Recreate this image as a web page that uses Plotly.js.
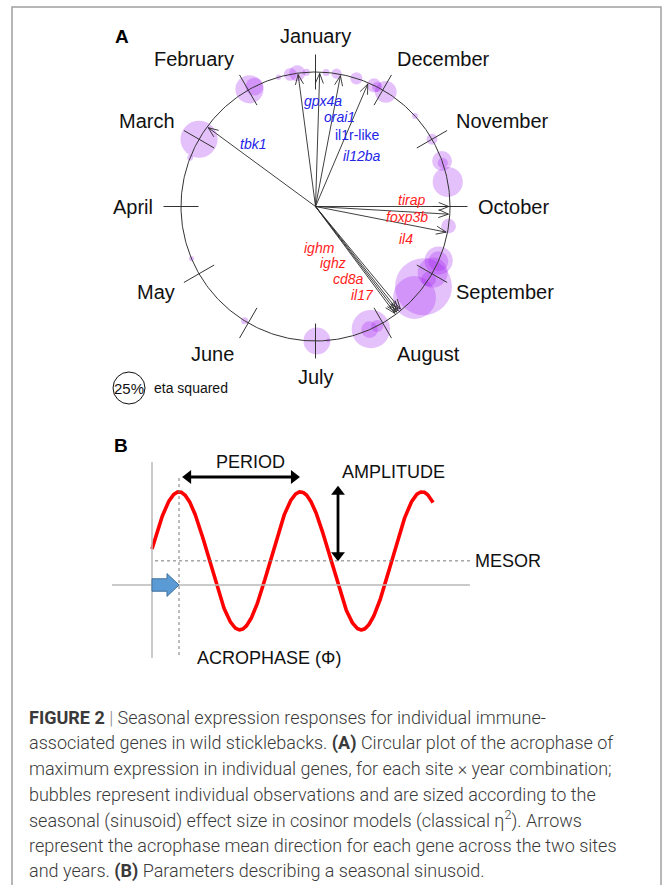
<!DOCTYPE html>
<html><head><meta charset="utf-8">
<script src="https://cdn.plot.ly/plotly-3.0.1.min.js"></script>
<style>html,body{margin:0;padding:0;background:#fff;} #chart{width:664px;height:885px;}</style>
</head><body><div id="chart"></div>
<script>
// ---------- DATA ----------
const months = ['January','February','March','April','May','June','July','August','September','October','November','December'];
// Panel A bubbles: acrophase (month position, 1 = January tick, 2 = February ...) and eta squared
const bubbleMonth = [1.53,1.36,1.26,1.13,0.85,0.70,12.41,12.14,12.09,11.95,1.98,1.90,3.00,3.29,11.41,11.00,10.66,10.63,10.35,9.72,9.21,9.20,9.02,8.91,8.78,8.58,7.81,7.79,7.91,7.02,7.18,5.94,4.76];
const bubbleEta2  = [0.04,0.10,0.125,0.055,0.055,0.08,0.095,0.11,0.08,0.17,0.22,0.14,0.29,0.045,0.045,0.085,0.155,0.08,0.235,0.115,0.22,0.155,0.235,0.115,0.445,0.335,0.30,0.13,0.095,0.21,0.03,0.055,0.04];
// Panel A arrows: mean acrophase direction per gene
const geneNames = ['tbk1','gpx4a','orai1','il1r-like','il12ba','tirap','foxp3b','il4','ighm','ighz','cd8a','il17'];
const geneMeanMonth = [2.79,1.25,0.94,0.64,12.23,10.00,9.89,9.63,8.32,8.28,8.25,8.22];
const geneGroup = ['blue','blue','blue','blue','blue','red','red','red','red','red','red','red'];
const geneItalic = [true,true,true,false,true,true,true,true,true,true,true,true];
const legendEta2 = 0.25;
// Panel B sinusoid parameters (time in months)
const period = 12, amplitude = 1, mesor = 0.35, acrophase = 2.67;
const curveStart = 0, curveEnd = 27.75;

// ---------- LAYOUT CONSTANTS ----------
const W = 664, H = 885;
const BUBBLE_PX = 128;                 // px diameter per unit eta squared
const groupColor = {blue:'#2424e8', red:'#ff1c1c'};
// gene label positions (in circle-radius units)
const geneLabelXY = [[-0.465,0.465],[0.056,0.788],[0.182,0.669],[0.309,0.528],[0.346,0.375],
                     [0.717,0.048],[0.680,-0.078],[0.673,-0.242],[0.033,-0.309],[0.130,-0.420],[0.249,-0.539],[0.353,-0.658]];

const deg = Math.PI/180;
const ang = m => (90 + (m-1)*30)*deg;

const traces = [];
// bubbles
traces.push({
  type:'scatter', mode:'markers', xaxis:'x', yaxis:'y',
  x: bubbleMonth.map(m=>Math.cos(ang(m))), y: bubbleMonth.map(m=>Math.sin(ang(m))),
  marker:{size: bubbleEta2.map(e=>e*BUBBLE_PX), color:'rgba(160,32,240,0.4)', line:{width:0}},
  hoverinfo:'skip'
});
// circle
const cx=[], cy=[];
for(let i=0;i<=360;i++){cx.push(Math.cos(i*deg)); cy.push(Math.sin(i*deg));}
traces.push({type:'scatter', mode:'lines', x:cx, y:cy, line:{color:'#333', width:1}, hoverinfo:'skip'});
// month ticks
const tx=[], ty=[];
months.forEach((_,i)=>{const a=ang(i+1); tx.push(0.87*Math.cos(a),1.13*Math.cos(a),null); ty.push(0.87*Math.sin(a),1.13*Math.sin(a),null);});
traces.push({type:'scatter', mode:'lines', x:tx, y:ty, line:{color:'#333', width:1}, hoverinfo:'skip'});
// arrows
const ax=[], ay=[];
const TIP=0.99, HL=0.08, HA=22*deg;
geneMeanMonth.forEach(m=>{
  const a=ang(m); const x1=TIP*Math.cos(a), y1=TIP*Math.sin(a);
  ax.push(0,x1,null); ay.push(0,y1,null);
  [a+Math.PI-HA, a+Math.PI+HA].forEach(b=>{ax.push(x1, x1+HL*Math.cos(b), null); ay.push(y1, y1+HL*Math.sin(b), null);});
});
traces.push({type:'scatter', mode:'lines', x:ax, y:ay, line:{color:'#2a2a2a', width:0.9}, hoverinfo:'skip'});
// legend bubble
const legX = (129-315.5)/134.5, legY = (206.5-388)/134.5;
traces.push({type:'scatter', mode:'markers', x:[legX], y:[legY],
  marker:{symbol:'circle-open', size:legendEta2*BUBBLE_PX, color:'#111', line:{width:1}}, hoverinfo:'skip'});

// Panel B curve
const sx=[], sy=[];
const N=700;
for(let i=0;i<=N;i++){const t=curveStart+(curveEnd-curveStart)*i/N; sx.push(t); sy.push(mesor+amplitude*Math.cos(2*Math.PI*(t-acrophase)/period));}
traces.push({type:'scatter', mode:'lines', xaxis:'x2', yaxis:'y2', x:sx, y:sy, line:{color:'#ff0000', width:3.6}, hoverinfo:'skip'});

// Panel B double arrows (period, amplitude)
const pY = 1.565, pX0 = acrophase+0.35, pX1 = acrophase+period-0.1;
const aX = 18.37, aY0 = mesor, aY1 = mesor+amplitude*1.08;
traces.push({type:'scatter', mode:'lines', xaxis:'x2', yaxis:'y2', x:[pX0+0.6,pX1-0.6], y:[pY,pY], line:{color:'#000', width:2.8}, hoverinfo:'skip'});
traces.push({type:'scatter', mode:'markers', xaxis:'x2', yaxis:'y2', x:[pX0+0.55,pX1-0.55], y:[pY,pY],
  marker:{symbol:['triangle-left','triangle-right'], size:12, color:'#000', line:{width:0}}, hoverinfo:'skip'});
traces.push({type:'scatter', mode:'lines', xaxis:'x2', yaxis:'y2', x:[aX,aX], y:[aY0+0.09,aY1-0.09], line:{color:'#000', width:2.8}, hoverinfo:'skip'});
traces.push({type:'scatter', mode:'markers', xaxis:'x2', yaxis:'y2', x:[aX,aX], y:[aY0+0.08,aY1-0.08],
  marker:{symbol:['triangle-down','triangle-up'], size:12, color:'#000', line:{width:0}}, hoverinfo:'skip'});

// ---------- ANNOTATIONS ----------
const ann = [];
const FONT = 'Liberation Sans, Arial, sans-serif';
// month labels
months.forEach((name,i)=>{
  const a=ang(i+1), c=Math.cos(a), s=Math.sin(a);
  ann.push({xref:'x', yref:'y', x:1.2*c, y:1.265*s, text:name, showarrow:false,
    xanchor: c>0.3?'left':(c<-0.3?'right':'center'), yanchor:'middle',
    font:{family:FONT, size:20, color:'#111'}, borderpad:0});
});
// gene labels
geneNames.forEach((g,i)=>{
  ann.push({xref:'x', yref:'y', x:geneLabelXY[i][0], y:geneLabelXY[i][1],
    text: geneItalic[i]?'<i>'+g+'</i>':g, showarrow:false,
    font:{family:FONT, size:14, color:groupColor[geneGroup[i]]}});
});
ann.push({xref:'x', yref:'y', x:legX, y:legY, text:Math.round(legendEta2*100)+'%', showarrow:false, font:{family:FONT,size:15,color:'#111'}});
ann.push({xref:'x', yref:'y', x:(152-315.5)/134.5, y:legY, xanchor:'left', text:'eta squared', showarrow:false, font:{family:FONT,size:14,color:'#111'}});
// panel letters
ann.push({xref:'paper', yref:'paper', x:122/W, y:1-36/H, xanchor:'center', yanchor:'middle', text:'<b>A</b>', showarrow:false, font:{family:FONT,size:19,color:'#000'}});
ann.push({xref:'paper', yref:'paper', x:121/W, y:1-445/H, xanchor:'center', yanchor:'middle', text:'<b>B</b>', showarrow:false, font:{family:FONT,size:19,color:'#000'}});
// panel B labels
const bFont = {family:FONT, size:18, color:'#111'};
ann.push({xref:'x2', yref:'y2', x:9.68, y:1.78, text:'PERIOD', showarrow:false, font:bFont});
ann.push({xref:'x2', yref:'y2', x:18.57, y:1.64, xanchor:'left', text:'AMPLITUDE', showarrow:false, font:bFont});
ann.push({xref:'x2', yref:'y2', x:31.7, y:mesor, xanchor:'left', text:'MESOR', showarrow:false, font:bFont});
ann.push({xref:'x2', yref:'y2', x:4.25, y:-1.06, xanchor:'left', text:'ACROPHASE (Φ)', showarrow:false, font:bFont});
// caption
const captionLines = [
  '<b>FIGURE 2</b> <span style="color:#888">|</span> Seasonal expression responses for individual immune-',
  'associated genes in wild sticklebacks. <b>(A)</b> Circular plot of the acrophase of',
  'maximum expression in individual genes, for each site × year combination;',
  'bubbles represent individual observations and are sized according to the',
  'seasonal (sinusoid) effect size in cosinor models (classical η<sup>2</sup>). Arrows',
  'represent the acrophase mean direction for each gene across the two sites',
  'and years. <b>(B)</b> Parameters describing a seasonal sinusoid.'
];
captionLines.forEach((t,i)=>{
  ann.push({xref:'paper', yref:'paper', x:27/W, y:1-(717+i*25.7)/H, xanchor:'left', yanchor:'middle',
    text:t, showarrow:false, font:{family:'Roboto, Liberation Sans, sans-serif', size:18, weight:300, color:'#3a3a3a'}});
});

// ---------- SHAPES ----------
const gray='#b8b8b8';
const headL=1.19, bodyH=0.09, headH=0.165;
const shapes = [
  {type:'rect', xref:'paper', yref:'paper', x0:12/W, x1:661/W, y0:-0.02, y1:1-7/H, line:{color:'#a0a0a0', width:1.5}},
  {type:'line', xref:'x2', yref:'y2', x0:0, x1:0, y0:1.783, y1:-1.058, line:{color:gray, width:1.5}},
  {type:'line', xref:'x2', yref:'y2', x0:-3.95, x1:31.4, y0:0, y1:0, line:{color:gray, width:1.5}},
  {type:'line', xref:'x2', yref:'y2', x0:0.3, x1:31.4, y0:mesor, y1:mesor, line:{color:'#777', width:1, dash:'dot'}},
  {type:'line', xref:'x2', yref:'y2', x0:acrophase, x1:acrophase, y0:1.55, y1:-1.06, line:{color:'#777', width:1, dash:'dot'}},
  {type:'path', xref:'x2', yref:'y2',
   path:`M 0 ${-bodyH} L ${acrophase-headL} ${-bodyH} L ${acrophase-headL} ${-headH} L ${acrophase} 0 L ${acrophase-headL} ${headH} L ${acrophase-headL} ${bodyH} L 0 ${bodyH} Z`,
   fillcolor:'#5b9bd5', line:{color:'#41719c', width:1}}
];

const layout = {
  width:W, height:H, margin:{l:0,r:0,t:0,b:0}, showlegend:false,
  paper_bgcolor:'#fff', plot_bgcolor:'rgba(0,0,0,0)',
  xaxis:{domain:[0,1], range:[(0-315.5)/134.5,(664-315.5)/134.5], visible:false, fixedrange:true, anchor:'y'},
  yaxis:{domain:[1-420/H,1], range:[(206.5-420)/134.5,206.5/134.5], visible:false, fixedrange:true, anchor:'x'},
  xaxis2:{domain:[0,1], range:[-152/10.125,(664-152)/10.125], visible:false, fixedrange:true, anchor:'y2'},
  yaxis2:{domain:[1-680/H,1-430/H], range:[(585-680)/69,(585-430)/69], visible:false, fixedrange:true, anchor:'x2'},
  annotations:ann, shapes:shapes
};
Plotly.newPlot('chart', traces, layout, {staticPlot:true, displayModeBar:false});
</script></body></html>
